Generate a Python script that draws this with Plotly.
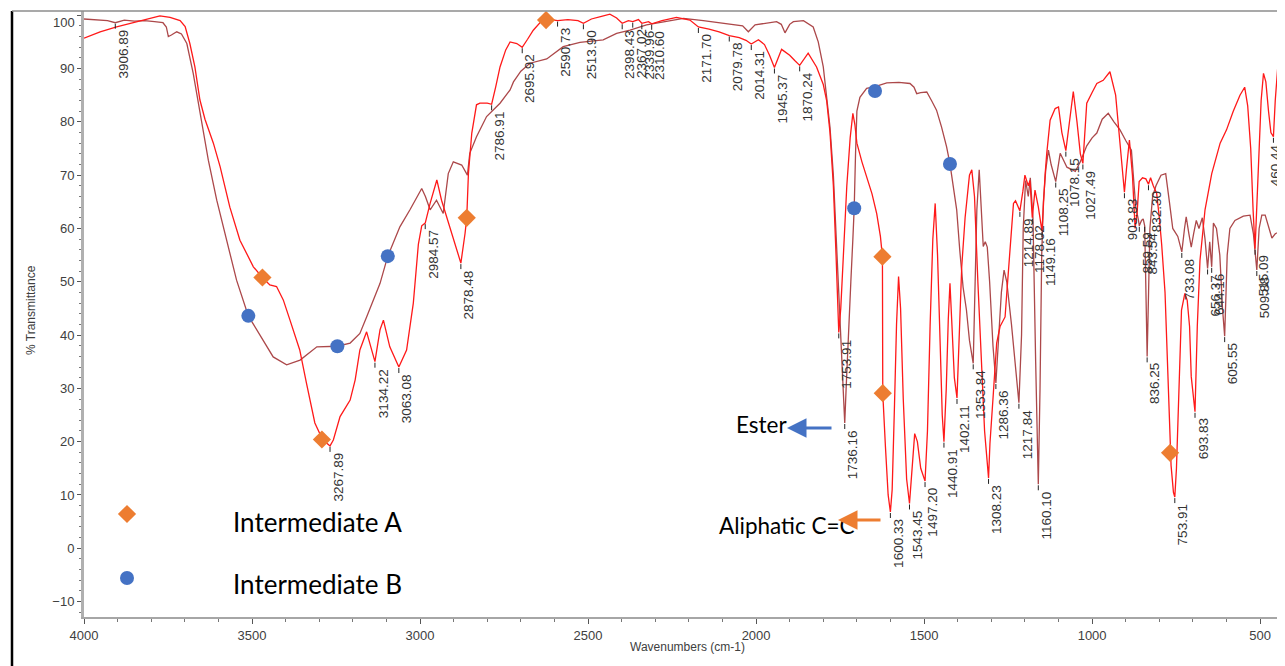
import numpy as np
import plotly.graph_objects as go

# ---------------- data ----------------
# Intermediate A (bright red trace): wavenumber (cm-1) and %T
A_WN = [4000, 3952, 3903, 3853, 3804, 3774, 3744, 3714, 3699, 3685,
        3670, 3655, 3640, 3615, 3595, 3566, 3536, 3496, 3469, 3447,
        3427, 3407, 3387, 3377, 3358, 3338, 3313, 3290, 3267.89, 3258,
        3238, 3208, 3193, 3179, 3159, 3134.22, 3119, 3109, 3090, 3063.08,
        3040, 3020, 3005, 2995, 2984.57, 2970, 2950, 2936, 2921, 2901,
        2878.48, 2866, 2861, 2856, 2846, 2832, 2822, 2800, 2786.91, 2775,
        2762, 2745, 2732, 2712, 2695.92, 2680, 2663, 2640, 2625, 2600,
        2590.73, 2560, 2530, 2513.9, 2490, 2460, 2435, 2415, 2398.43, 2380,
        2367.02, 2350, 2339.96, 2320, 2310.6, 2280, 2237, 2197, 2171.7, 2140,
        2110, 2079.78, 2050, 2030, 2014.31, 1993, 1975, 1960, 1945.37, 1924,
        1900, 1885, 1870.24, 1845, 1820, 1800, 1790, 1780, 1770, 1762,
        1757, 1753.91, 1748, 1740, 1730, 1720, 1712, 1706, 1700, 1685,
        1671, 1655, 1641, 1630, 1624, 1623, 1615, 1607, 1600.33, 1595,
        1588, 1582, 1576, 1570, 1562, 1552, 1543.45, 1536, 1528, 1520,
        1510, 1497.2, 1490, 1482, 1474, 1467, 1460, 1452, 1446, 1440.91,
        1434, 1428, 1423, 1418, 1410, 1402.11, 1395, 1388, 1378, 1365,
        1358, 1350, 1340, 1330, 1320, 1308.23, 1304, 1294, 1284, 1274,
        1259, 1254, 1244, 1234, 1228, 1214.89, 1206, 1200, 1190, 1185,
        1178.02, 1170, 1160, 1149.16, 1140, 1135, 1125, 1110, 1100, 1090,
        1078.15, 1068, 1056, 1045, 1035, 1027.49, 1016, 1000, 986, 967,
        947, 930, 917, 903.83, 898, 889, 880, 872, 866, 860,
        850, 840, 832.3, 826, 818, 808, 800, 793, 783, 776,
        770, 765, 758, 753.91, 749, 741, 734, 724, 717, 710,
        705, 693.83, 687, 679, 664, 644, 619, 600, 580, 560,
        546, 537, 528, 521, 515.09, 510, 505, 497, 490, 483,
        475, 468, 460.44, 455, 446, 438, 430, 420]
A_T = [95.7, 96.9, 97.8, 98.6, 99.4, 99.9, 99.6, 99.0, 97.9, 94.7,
       90.3, 84.1, 80.5, 76.0, 71.6, 64.0, 57.8, 52.8, 50.8, 49.4,
       49.1, 46.6, 42.8, 41.0, 37.2, 31.0, 23.5, 20.4, 19.2, 20.3,
       24.7, 27.8, 31.6, 37.2, 40.6, 35.0, 41.0, 42.8, 37.8, 34.0,
       37.2, 46.0, 57.0, 60.5, 61.0, 64.7, 69.1, 65.3, 62.2, 57.8,
       53.5, 59.1, 62.0, 70.3, 77.9, 83.2, 83.5, 83.5, 83.3, 86.5,
       90.3, 93.5, 95.0, 94.7, 94.0, 95.5, 97.2, 98.8, 99.1, 99.1,
       99.0, 99.2, 99.0, 98.5, 99.3, 99.8, 100.2, 99.5, 98.5, 99.0,
       98.8, 99.2, 98.5, 98.8, 98.4, 99.0, 99.6, 99.1, 97.8, 97.4,
       96.9, 96.2, 95.8, 95.3, 94.6, 95.4, 94.5, 92.5, 90.2, 93.6,
       92.5, 91.5, 90.6, 92.9, 90.3, 87.0, 84.0, 78.0, 68.0, 55.0,
       45.0, 40.5, 45.0, 56.0, 68.0, 77.0, 81.6, 79.5, 76.0, 72.5,
       69.7, 66.5, 62.8, 58.5, 54.7, 29.1, 19.0, 10.0, 6.8, 11.0,
       27.0, 42.0, 51.0, 45.0, 28.0, 13.0, 8.4, 14.0, 21.5, 20.0,
       15.0, 12.6, 22.0, 42.0, 58.0, 64.7, 55.0, 38.0, 25.0, 20.0,
       30.0, 43.0, 49.7, 43.0, 32.0, 28.2, 40.0, 52.8, 62.0, 70.0,
       71.0, 66.0, 50.0, 35.0, 22.0, 13.2, 19.7, 29.0, 38.5, 41.6,
       43.4, 47.8, 56.6, 64.7, 65.2, 63.3, 67.0, 70.0, 68.0, 69.0,
       62.0, 67.2, 64.0, 59.5, 70.0, 74.1, 80.3, 82.5, 82.8, 78.0,
       74.6, 80.0, 85.7, 80.0, 74.0, 72.2, 83.5, 85.5, 87.2, 87.8,
       89.4, 85.0, 76.0, 66.8, 71.0, 76.6, 70.0, 60.0, 63.0, 68.8,
       69.5, 69.3, 68.3, 69.5, 68.0, 66.6, 62.0, 57.0, 48.0, 35.0,
       21.0, 15.5, 10.5, 9.6, 15.0, 33.0, 44.7, 47.8, 46.5, 41.6,
       32.2, 25.6, 41.6, 54.0, 63.5, 70.3, 76.0, 78.5, 82.0, 85.0,
       86.5, 83.0, 75.0, 63.5, 56.2, 64.0, 72.8, 84.0, 89.1, 87.5,
       82.0, 78.0, 77.2, 84.0, 91.6, 97.0, 99.5, 100.2]

# Intermediate B (dark red trace)
B_WN = [4000, 3960, 3930, 3906.89, 3880, 3850, 3820, 3790, 3765, 3755,
        3749, 3740, 3724, 3710, 3694, 3675, 3655, 3630, 3605, 3575,
        3546, 3511, 3476, 3437, 3397, 3357, 3307, 3246, 3208, 3179,
        3159, 3119, 3096, 3060, 3030, 2995, 2984, 2970, 2951, 2931,
        2916, 2901, 2876, 2859, 2852, 2832, 2802, 2762, 2732, 2722,
        2700, 2673, 2623, 2574, 2524, 2455, 2415, 2375, 2326, 2276,
        2216, 2157, 2078, 2040, 2023, 2003, 1939, 1925, 1914, 1900,
        1889, 1859, 1830, 1815, 1800, 1790, 1780, 1770, 1760, 1750,
        1744, 1740, 1736.16, 1732, 1726, 1718, 1712, 1708, 1704, 1700,
        1691, 1671, 1646, 1611, 1575, 1542, 1530, 1522, 1510, 1492,
        1478, 1463, 1448, 1433, 1423, 1413, 1403, 1394, 1384, 1374,
        1365, 1353.84, 1348, 1343, 1336, 1330, 1324, 1318, 1312, 1305,
        1295, 1286.36, 1278, 1270, 1262, 1254, 1240, 1230, 1217.84, 1210,
        1205, 1198, 1190, 1184, 1176, 1168, 1160.1, 1155, 1150, 1145,
        1138, 1130, 1122, 1108.25, 1095, 1075, 1050, 1035, 1016, 1000,
        986, 970, 952, 935, 917, 900, 883, 875, 870, 862,
        859.59, 853, 848, 843.54, 840, 836.25, 832, 828, 820, 810,
        795, 781, 770, 760, 745, 733.08, 725, 720, 712, 705,
        698, 690, 682, 672, 664, 656.37, 650, 644.16, 639, 630,
        620, 612, 605.55, 598, 590, 575, 550, 530, 520, 515,
        509.88, 503, 495, 485, 475, 465, 455, 440, 420]
B_T = [99.3, 99.2, 99.0, 98.6, 99.1, 98.9, 99.0, 98.8, 98.6, 97.8,
       96.0, 96.3, 96.9, 96.5, 94.7, 89.1, 82.2, 72.8, 65.3, 57.8,
       50.3, 43.6, 40.0, 35.9, 34.4, 35.3, 37.8, 37.9, 38.5, 40.3,
       43.4, 49.7, 54.8, 60.3, 63.5, 67.5, 66.0, 63.5, 65.3, 62.8,
       70.3, 72.5, 71.9, 70.0, 74.1, 77.2, 81.0, 83.5, 86.0, 87.5,
       89.5, 91.0, 91.8, 94.1, 94.9, 95.4, 96.6, 97.2, 98.2, 98.8,
       99.4, 99.0, 98.4, 98.0, 96.9, 98.2, 98.8, 98.3, 96.7, 98.3,
       98.8, 99.0, 97.8, 95.0, 90.3, 85.0, 79.0, 70.0, 56.0, 42.0,
       32.0, 26.0, 23.5, 30.0, 40.0, 50.0, 58.0, 63.8, 74.0, 82.0,
       84.6, 86.3, 86.6, 87.3, 87.4, 87.2, 86.5, 85.3, 85.5, 85.6,
       84.0, 82.2, 79.0, 75.3, 72.1, 67.5, 63.5, 56.0, 49.0, 44.7,
       39.0, 34.7, 50.0, 63.5, 71.0, 64.0, 56.6, 57.5, 56.5, 50.0,
       38.0, 31.0, 40.0, 48.0, 52.2, 50.0, 42.0, 35.0, 27.3, 40.0,
       60.0, 69.0, 66.0, 69.5, 62.0, 35.0, 12.0, 30.0, 55.0, 65.0,
       71.0, 74.7, 72.0, 68.8, 74.1, 71.5, 70.7, 72.5, 75.5, 77.0,
       77.9, 80.5, 81.6, 80.0, 78.5, 76.5, 74.7, 68.0, 64.0, 61.5,
       60.5, 61.5, 61.8, 60.5, 50.0, 36.0, 48.0, 60.0, 66.0, 68.0,
       70.0, 70.3, 65.0, 60.0, 58.5, 55.6, 60.0, 62.2, 59.0, 56.5,
       59.0, 61.5, 60.0, 62.0, 58.0, 52.5, 57.5, 52.8, 61.0, 60.0,
       55.0, 45.0, 39.8, 55.0, 60.0, 61.5, 62.3, 62.5, 59.0, 56.0,
       52.2, 60.0, 62.5, 62.5, 60.5, 58.2, 59.0, 59.5, 59.0]

# highlighted points on each trace
A_MARK_WN = [3469, 3292, 2861, 2625, 1624, 1623, 768]
A_MARK_T = [50.8, 20.4, 62.0, 99.1, 54.7, 29.1, 17.9]
B_MARK_WN = [3511, 3246, 3096, 1708, 1646, 1423]
B_MARK_T = [43.6, 37.9, 54.8, 63.8, 85.8, 72.1]

# peak labels
A_PEAKS = ["3267.89", "3134.22", "3063.08", "2984.57", "2878.48", "2786.91",
           "2695.92", "2590.73", "2513.90", "2398.43", "2367.02", "2339.96",
           "2310.60", "2171.70", "2079.78", "2014.31", "1945.37", "1870.24",
           "1753.91", "1600.33", "1543.45", "1497.20", "1440.91", "1402.11",
           "1308.23", "1214.89", "1178.02", "1149.16", "1078.15", "1027.49",
           "903.83", "832.30", "753.91", "693.83", "515.09", "460.44"]
B_PEAKS = ["3906.89", "1736.16", "1353.84", "1286.36", "1217.84", "1160.10",
           "1108.25", "859.59", "843.54", "836.25", "733.08", "656.37",
           "644.16", "605.55", "509.88"]

SERIES_NAMES = ["Intermediate A", "Intermediate B"]
X_RANGE = [4000, 426]
Y_RANGE = [-12.9, 100.8]

# ---------------- styling ----------------
COL_A = "rgb(255,25,25)"
COL_B = "rgb(172,72,74)"
ORANGE = "#ED7D31"
BLUE = "#4472C4"
OFF = 8                      # page body margin of the browser
W, H = 1285 - OFF, 666 - OFF
ML, MR, MT, MB = 84 - OFF, 0, 11 - OFF, 49
PW, PH = W - ML - MR, H - MT - MB
EDGE_SHIFT = {"460.44": 2}   # label sitting against the right border


def px(xp, yp):
    """page pixel -> paper coordinates"""
    return (xp - OFF - ML) / PW, (H - MB - (yp - OFF)) / PH


fig = go.Figure()
fig.add_trace(go.Scatter(x=B_WN, y=B_T, mode="lines", line=dict(color=COL_B, width=1.3),
                         name=SERIES_NAMES[1], showlegend=False))
fig.add_trace(go.Scatter(x=A_WN, y=A_T, mode="lines", line=dict(color=COL_A, width=1.3),
                         name=SERIES_NAMES[0], showlegend=False))
fig.add_trace(go.Scatter(x=A_MARK_WN, y=A_MARK_T, mode="markers",
                         marker=dict(symbol="diamond", size=14, color=ORANGE), showlegend=False))
fig.add_trace(go.Scatter(x=B_MARK_WN, y=B_MARK_T, mode="markers",
                         marker=dict(symbol="circle", size=14, color=BLUE), showlegend=False))

annotations = []
shapes = []
lab_font = dict(family="Liberation Sans, Arial", size=13.5, color="#333333")


def add_peaks(labels, wn, t):
    wn_r = np.array(wn[::-1], dtype=float)
    t_r = np.array(t[::-1], dtype=float)
    for lab in labels:
        xv = float(lab)
        yv = float(np.interp(xv, wn_r, t_r))
        annotations.append(dict(x=xv, y=yv, xref="x", yref="y", text=lab, showarrow=False,
                                textangle=-90, xanchor="center", yanchor="top",
                                xshift=EDGE_SHIFT.get(lab, 8), yshift=-5, font=lab_font))
        shapes.append(dict(type="line", xref="x", yref="y", x0=xv, x1=xv,
                           ysizemode="pixel", yanchor=yv, y0=-1, y1=-6,
                           line=dict(color="#222222", width=1)))


add_peaks(A_PEAKS, A_WN, A_T)
add_peaks(B_PEAKS, B_WN, B_T)

# legend keys
lx, ly = px(127, 514)
fig.add_trace(go.Scatter(x=[lx], y=[ly], xaxis="x2", yaxis="y2", mode="markers",
                         marker=dict(symbol="diamond", size=14, color=ORANGE), showlegend=False))
lx, ly = px(127, 578)
fig.add_trace(go.Scatter(x=[lx], y=[ly], xaxis="x2", yaxis="y2", mode="markers",
                         marker=dict(symbol="circle", size=14, color=BLUE), showlegend=False))

cal = dict(family="Lato, Carlito, Calibri, sans-serif", size=26, color="black")
for text, (xp, yp) in [(SERIES_NAMES[0], (231, 522)), (SERIES_NAMES[1], (231, 584))]:
    x0, y0 = px(xp, yp)
    annotations.append(dict(x=x0, y=y0, xref="paper", yref="paper", text=text, showarrow=False,
                            xanchor="left", yanchor="middle", font=cal))

cal2 = dict(family="Lato, Carlito, Calibri, sans-serif", size=22.5, color="black")
x0, y0 = px(734, 424)
annotations.append(dict(x=x0, y=y0, xref="paper", yref="paper", text="Ester", showarrow=False,
                        xanchor="left", yanchor="middle", font=cal2))
x0, y0 = px(717, 525)
annotations.append(dict(x=x0, y=y0, xref="paper", yref="paper", text="Aliphatic C=C", showarrow=False,
                        xanchor="left", yanchor="middle", font=cal2))
# arrows
x0, y0 = px(787, 428)
annotations.append(dict(x=x0, y=y0, xref="paper", yref="paper", text="", showarrow=True,
                        ax=46, ay=0, arrowhead=2, arrowsize=1.3, arrowwidth=3, arrowcolor=BLUE,
                        standoff=0))
x0, y0 = px(838, 520)
annotations.append(dict(x=x0, y=y0, xref="paper", yref="paper", text="", showarrow=True,
                        ax=44, ay=0, arrowhead=2, arrowsize=1.3, arrowwidth=3, arrowcolor=ORANGE,
                        standoff=0))

axfont = dict(family="Liberation Sans, Arial", size=12, color="#404040")
x0, y0 = px(22, 310)
annotations.append(dict(x=x0, y=y0, xref="paper", yref="paper", text="% Transmittance",
                        showarrow=False, textangle=-90, font=axfont))
x0, y0 = px(687, 656)
annotations.append(dict(x=x0, y=y0, xref="paper", yref="paper", text="Wavenumbers (cm-1)",
                        showarrow=False, font=axfont))
x0, y0 = px(77, 22)
annotations.append(dict(x=x0, y=y0, xref="paper", yref="paper", text="100",
                        showarrow=False, xanchor="right", yanchor="middle",
                        font=dict(family="Liberation Sans, Arial", size=13, color="#404040")))

# frame lines
xl, _ = px(12, 0)
_, yb = px(0, 666)
shapes.append(dict(type="line", xref="paper", yref="paper", x0=xl, x1=xl, y0=yb, y1=1,
                   line=dict(color="black", width=2.5)))
shapes.append(dict(type="line", xref="paper", yref="paper", x0=xl, x1=1, y0=1, y1=1,
                   line=dict(color="#8c8c8c", width=1.5)))

tickfont = dict(family="Liberation Sans, Arial", size=13, color="#404040")
fig.update_layout(
    width=W, height=H,
    margin=dict(l=ML, r=MR, t=MT, b=MB),
    paper_bgcolor="white", plot_bgcolor="white",
    showlegend=False,
    xaxis=dict(range=X_RANGE, tickmode="linear", tick0=0, dtick=500, ticks="outside",
               ticklen=5, tickcolor="#555555", showline=True, linecolor="#A6A6A6", linewidth=2,
               showgrid=False, zeroline=False, tickfont=tickfont,
               minor=dict(dtick=100, ticks="outside", ticklen=3, tickcolor="#777777")),
    yaxis=dict(range=Y_RANGE, tickmode="linear", tick0=0, dtick=10, ticks="outside",
               ticklen=4, tickcolor="#555555", showline=True, linecolor="#B0B0B0", linewidth=3,
               showgrid=False, zeroline=False, tickfont=tickfont, labelalias={"100": " "},
               minor=dict(dtick=2, ticks="outside", ticklen=2, tickcolor="#777777")),
    xaxis2=dict(range=[0, 1], visible=False, overlaying="x", domain=[0, 1]),
    yaxis2=dict(range=[0, 1], visible=False, overlaying="y", domain=[0, 1]),
    annotations=annotations,
    shapes=shapes,
)
fig.update_traces(cliponaxis=False, selector=dict(xaxis="x2"))

fig.write_html("out.html")
